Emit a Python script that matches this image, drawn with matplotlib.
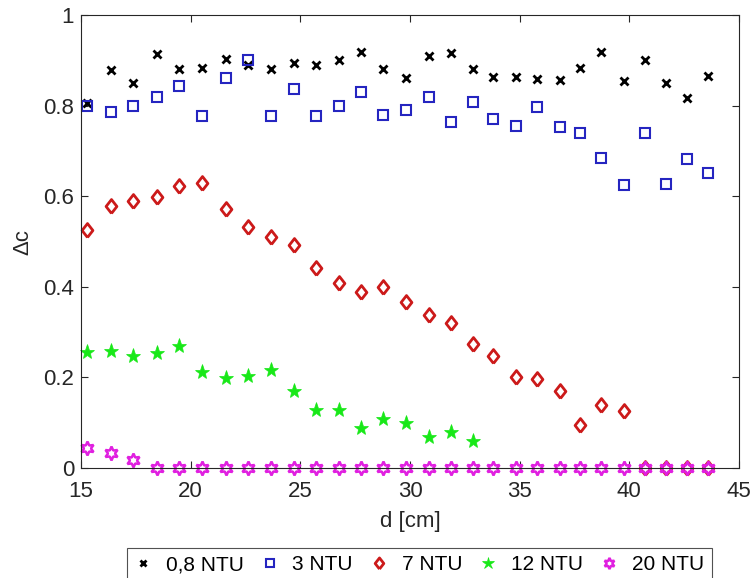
import matplotlib
matplotlib.use('Agg')
import matplotlib.pyplot as plt

plt.rcParams['font.family'] = ['Liberation Sans', 'DejaVu Sans']

# distance d [cm]
d = [15.26, 16.36, 17.39, 18.45, 19.49, 20.53, 21.61, 22.63, 23.66, 24.72,
     25.73, 26.74, 27.78, 28.78, 29.83, 30.86, 31.85, 32.85, 33.80, 34.81,
     35.79, 36.82, 37.77, 38.72, 39.74, 40.70, 41.66, 42.63, 43.60]

ntu_08 = [0.806, 0.879, 0.851, 0.914, 0.880, 0.883, 0.904, 0.889, 0.880, 0.893,
          0.890, 0.900, 0.919, 0.880, 0.862, 0.909, 0.917, 0.881, 0.863, 0.863,
          0.859, 0.856, 0.883, 0.919, 0.854, 0.901, 0.850, 0.816, 0.866]
ntu_3 = [0.799, 0.787, 0.799, 0.820, 0.844, 0.778, 0.862, 0.901, 0.776, 0.837,
         0.776, 0.799, 0.830, 0.779, 0.790, 0.820, 0.764, 0.808, 0.770, 0.756,
         0.797, 0.753, 0.739, 0.685, 0.625, 0.739, 0.627, 0.683, 0.652]
ntu_7 = [0.525, 0.579, 0.589, 0.599, 0.623, 0.630, 0.572, 0.531, 0.509, 0.492,
         0.441, 0.408, 0.389, 0.399, 0.367, 0.338, 0.321, 0.273, 0.248, 0.202,
         0.197, 0.171, 0.096, 0.139, 0.125, 0.0, 0.0, 0.0, 0.0]
ntu_12 = [0.255, 0.259, 0.248, 0.254, 0.269, 0.213, 0.199, 0.203, 0.216, 0.170,
          0.127, 0.128, 0.088, 0.108, 0.099, 0.068, 0.079, 0.060]
ntu_20 = [0.045, 0.034, 0.018] + [0.0] * 26

labels = ['0,8 NTU', '3 NTU', '7 NTU', '12 NTU', '20 NTU']

# MATLAB-like diamond (wider than matplotlib's thin 'd')
diamond = [(0, -1), (0.78, 0), (0, 1), (-0.78, 0), (0, -1)]

fig = plt.figure(figsize=(7.53, 5.78), dpi=100)
ax = fig.add_axes([0.1076, 0.1903, 0.8738, 0.7837])

# markers on the axis line are not clipped, as in MATLAB
ax.plot(d, ntu_08, 'x', color='black', ms=5.5, mew=2, label=labels[0], clip_on=False)
ax.plot(d, ntu_3, 's', color='#2525c0', mfc='none', ms=7, mew=1.5, label=labels[1],
        clip_on=False)
ax.plot(d, ntu_7, marker=diamond, ls='none', color='#cc1a1a', mfc='none',
        ms=10, mew=2, label=labels[2], clip_on=False)
ax.plot(d[:len(ntu_12)], ntu_12, '*', color='#18e818', ms=11, mew=0.5, label=labels[3],
        clip_on=False)
ax.plot(d, ntu_20, marker=(6, 1, 0), ls='none', color='#e020e0', mfc='none',
        ms=10, mew=1.8, label=labels[4], clip_on=False)

ax.set_xlim(15, 45)
ax.set_ylim(0, 1)
ax.set_xticks([15, 20, 25, 30, 35, 40, 45])
ax.set_yticks([0, 0.2, 0.4, 0.6, 0.8, 1])
ax.set_yticklabels(['0', '0.2', '0.4', '0.6', '0.8', '1'])
ax.tick_params(direction='in', top=True, right=True, length=5, width=0.8,
               labelsize=16, colors='#262626')
ax.tick_params(axis='x', pad=9)
ax.tick_params(axis='y', pad=5)
for s in ax.spines.values():
    s.set_color('#262626')
    s.set_linewidth(0.8)

ax.set_xlabel('d [cm]', fontsize=16, color='#262626')
ax.set_ylabel('Δc', fontsize=16, color='#262626')
ax.xaxis.set_label_coords(0.5, -0.095)
ax.yaxis.set_label_coords(-0.073, 0.5)

leg = fig.legend(loc='upper center', bbox_to_anchor=(0.557, 0.052), ncol=5,
                 fontsize=15, frameon=True, fancybox=False, handlelength=0.8,
                 handletextpad=0.7, columnspacing=0.85, borderpad=0.35,
                 borderaxespad=0, markerscale=0.8)
leg.get_frame().set_edgecolor('#262626')
leg.get_frame().set_linewidth(0.8)

fig.savefig('out.png', dpi=100)
